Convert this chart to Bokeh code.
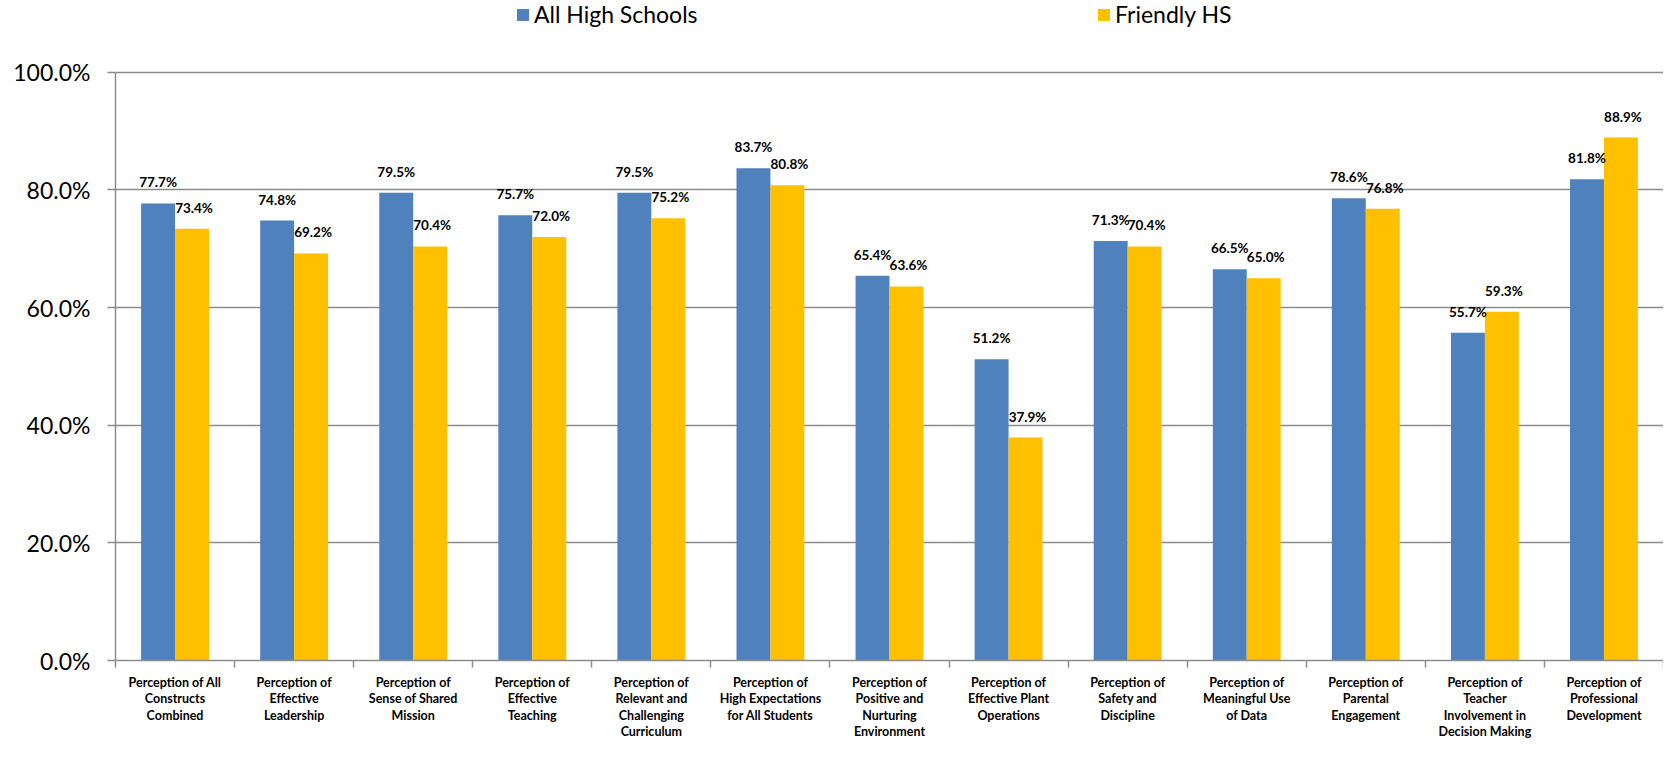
from bokeh.plotting import figure
from bokeh.models import (Range1d, FixedTicker, NumeralTickFormatter, Legend,
                          LegendItem, ColumnDataSource)
from bokeh.core.properties import value
from bokeh.embed import file_html
from bokeh.resources import INLINE

categories = [
    "Perception of All\nConstructs\nCombined",
    "Perception of\nEffective\nLeadership",
    "Perception of\nSense of Shared\nMission",
    "Perception of\nEffective\nTeaching",
    "Perception of\nRelevant and\nChallenging\nCurriculum",
    "Perception of\nHigh Expectations\nfor All Students",
    "Perception of\nPositive and\nNurturing\nEnvironment",
    "Perception of\nEffective Plant\nOperations",
    "Perception of\nSafety and\nDiscipline",
    "Perception of\nMeaningful Use\nof Data",
    "Perception of\nParental\nEngagement",
    "Perception of\nTeacher\nInvolvement in\nDecision Making",
    "Perception of\nProfessional\nDevelopment",
]
all_high_schools = [0.777, 0.748, 0.795, 0.757, 0.795, 0.837, 0.654, 0.512,
                    0.713, 0.665, 0.786, 0.557, 0.818]
friendly_hs = [0.734, 0.692, 0.704, 0.720, 0.752, 0.808, 0.636, 0.379,
               0.704, 0.650, 0.768, 0.593, 0.889]
series_names = ["All High Schools", "Friendly HS"]
series_colors = ["#4F81BD", "#FFC000"]
y_ticks = [0.0, 0.2, 0.4, 0.6, 0.8, 1.0]

n = len(categories)
centers = [i + 0.5 for i in range(n)]
bw = 0.285
src = ColumnDataSource(dict(
    xa=[c - bw / 2 for c in centers],
    xb=[c + bw / 2 for c in centers],
    a=all_high_schools,
    b=friendly_hs,
    la=[f"{v * 100:.1f}%" for v in all_high_schools],
    lb=[f"{v * 100:.1f}%" for v in friendly_hs],
))

# frame reaches the top of the figure so the legends (inside the frame) are visible;
# the y axis line is bounded to 0..100%
p = figure(width=1663, height=742, output_backend="svg", toolbar_location=None,
           x_range=Range1d(0, n), y_range=Range1d(0, 1.122),
           min_border_left=115, min_border_right=0, min_border_top=0,
           min_border_bottom=79)
p.outline_line_color = None
p.background_fill_color = "white"

ra = p.vbar(x="xa", top="a", width=bw, source=src,
            fill_color=series_colors[0], line_color=None)
rb = p.vbar(x="xb", top="b", width=bw, source=src,
            fill_color=series_colors[1], line_color=None)

lab_font = value("Lato")
p.text(x="xa", y="a", text="la", source=src, text_align="center",
       text_baseline="middle", y_offset=-21, text_font=lab_font,
       text_font_style="bold", text_font_size="13.5px", text_color="black")
p.text(x="xb", y="b", text="lb", source=src, text_align="center",
       text_baseline="middle", y_offset=-21, x_offset=2, text_font=lab_font,
       text_font_style="bold", text_font_size="13.5px", text_color="black")

grey = "#8C8C8C"

# grid
p.xgrid.visible = False
p.ygrid.ticker = FixedTicker(ticks=y_ticks)
p.ygrid.grid_line_color = grey
p.ygrid.grid_line_width = 1.5

# y axis
ya = p.yaxis[0]
ya.ticker = FixedTicker(ticks=y_ticks)
ya.formatter = NumeralTickFormatter(format="0.0%")
ya.bounds = (0, 1.0)
ya.axis_line_color = grey
ya.axis_line_width = 1.5
ya.major_tick_line_color = grey
ya.major_tick_line_width = 1.5
ya.major_tick_out = 8
ya.major_tick_in = 0
ya.minor_tick_line_color = None
ya.major_label_text_font = "Lato"
ya.major_label_text_font_size = "23px"
ya.major_label_text_color = "black"
ya.major_label_standoff = 17

# x axis
xa = p.xaxis[0]
xa.ticker = FixedTicker(ticks=centers, minor_ticks=list(range(n + 1)))
xa.major_label_overrides = {c: lab for c, lab in zip(centers, categories)}
xa.axis_line_color = grey
xa.axis_line_width = 1.5
xa.major_tick_line_color = None
xa.major_tick_out = 0
xa.major_tick_in = 0
xa.minor_tick_line_color = grey
xa.minor_tick_line_width = 1.5
xa.minor_tick_out = 7
xa.minor_tick_in = 0
xa.major_label_text_font = "Lato"
xa.major_label_text_font_style = "bold"
xa.major_label_text_font_size = "12.5px"
xa.major_label_text_line_height = 1.1
xa.major_label_text_color = "black"
xa.major_label_standoff = 7

common = dict(orientation="horizontal", border_line_color=None,
              background_fill_alpha=0, padding=0, margin=0,
              glyph_width=15, glyph_height=15, label_standoff=4,
              label_text_font="Lato", label_text_font_size="23px",
              label_text_color="black")
leg1 = Legend(items=[LegendItem(label=series_names[0], renderers=[ra])],
              location=(400, 632), **common)
leg2 = Legend(items=[LegendItem(label=series_names[1], renderers=[rb])],
              location=(981, 632), **common)
p.add_layout(leg1, "center")
p.add_layout(leg2, "center")

open("out.html", "w").write(file_html(p, INLINE))
